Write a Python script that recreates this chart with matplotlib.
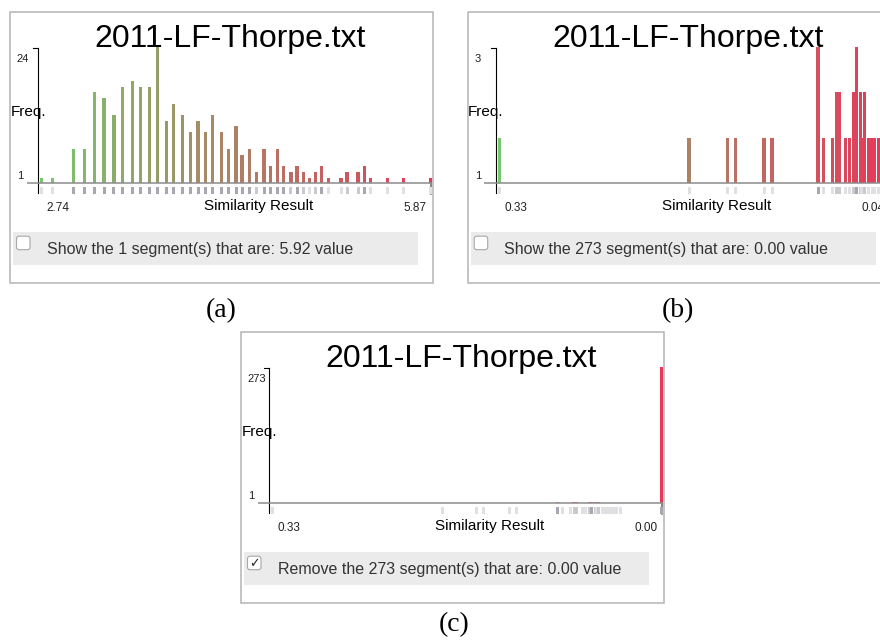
import numpy as np
import matplotlib.pyplot as plt
from matplotlib.colors import LinearSegmentedColormap
from matplotlib.patches import Rectangle, FancyBboxPatch

W, H = 880, 643

title = "2011-LF-Thorpe.txt"

# panel (a): similarity value of each bar and its frequency
a_values = [2.74, 2.83, 3.00, 3.09, 3.17, 3.25, 3.33, 3.40, 3.48, 3.55, 3.62, 3.69,
            3.76, 3.82, 3.89, 3.96, 4.02, 4.08, 4.14, 4.21, 4.27, 4.33, 4.38, 4.44,
            4.50, 4.56, 4.61, 4.67, 4.72, 4.78, 4.83, 4.88, 4.93, 4.98, 5.03, 5.09,
            5.19, 5.24, 5.33, 5.38, 5.43, 5.57, 5.70, 5.92]
a_counts = [1, 1, 6, 6, 16, 15, 12, 17, 18, 17, 17, 24,
            11, 14, 12, 9, 11, 9, 12, 9, 6, 10, 5, 6,
            2, 6, 3, 6, 3, 2, 3, 2, 1, 2, 3, 1,
            1, 2, 2, 3, 1, 1, 1, 1]
a_range = (2.74, 5.92)
a_ticks = ["2.74", "5.87"]

# panel (b): the 0.00 segments are hidden
b_values = [0.330, 0.186, 0.157, 0.151, 0.129, 0.123, 0.088, 0.084, 0.077, 0.074,
            0.072, 0.067, 0.064, 0.061, 0.059, 0.056, 0.055, 0.053, 0.050, 0.047,
            0.045, 0.042, 0.040, 0.038, 0.035]
b_counts = [1, 1, 1, 1, 1, 1, 3, 1, 1, 2,
            2, 1, 1, 2, 3, 2, 1, 2, 1, 1,
            1, 1, 1, 1, 1]
b_range = (0.33, 0.035)
b_ticks = ["0.33", "0.04"]

# panel (c): same segments plus the 273 at 0.00
c_values = b_values + [0.0]
c_counts = b_counts + [273]
c_range = (0.33, 0.0)
c_ticks = ["0.33", "0.00"]

cmap = LinearSegmentedColormap.from_list("sim", ["#76c86e", "#e6385a"])

plt.rcParams["font.family"] = ["Liberation Sans", "DejaVu Sans"]
fig = plt.figure(figsize=(W / 100, H / 100), dpi=100)


def rug_shade(n):
    if n >= 3:
        return "#a7a7b1"
    if n == 2:
        return "#cacace"
    return "#e0e0e2"


def panel(ox, oy, values, counts, vrange, ticks, check_text, checked):
    pw, ph = 422.7, 271.0
    pa = fig.add_axes([ox / W, 1 - (oy + ph) / H, pw / W, ph / H])
    pa.set_xlim(0, pw)
    pa.set_ylim(ph, 0)
    pa.axis("off")
    pa.add_patch(Rectangle((0, 0), pw, ph, fill=False, ec="#b4b4b4", lw=1.1, clip_on=False))

    # bars + rug
    x0, x1 = 16.7, 422.4
    xa, xb = 31.8, 420.2
    y_top, y_base, y_bot = 35.0, 171.6, 182.3
    lo, hi = vrange
    dpp = (hi - lo) / (xb - xa)
    ymax = max(counts)
    ypp = ymax / (y_base - y_top)
    ax = fig.add_axes([(ox + x0) / W, 1 - (oy + y_bot) / H, (x1 - x0) / W, (y_bot - y_top) / H])
    ax.set_xlim(lo - (xa - x0) * dpp, hi + (x1 - xb) * dpp)
    ax.set_ylim(-(y_bot - y_base) * ypp, ymax)
    ax.axis("off")
    vals = np.array(values)
    cols = cmap((vals - lo) / (hi - lo))
    ax.bar(vals, counts, width=3.3 * abs(dpp), color=cols, clip_on=False, zorder=3)
    ax.bar(vals, 7.3 * ypp, bottom=-10.7 * ypp, width=3.0 * abs(dpp),
           color=[rug_shade(n) for n in counts], clip_on=False, zorder=2)
    ax.axhline(0, color="#8c8c8c", lw=1.1, zorder=4)

    # axis chrome
    pa.plot([28.3, 28.3], [36.6, 181], color="black", lw=0.8, zorder=5)
    pa.plot([23, 28.3], [36.6, 36.6], color="black", lw=0.8, zorder=5)
    pa.plot([420.7, 420.7], [171.6, 182], color="#6e6e6e", lw=1.2, zorder=5)
    pa.text(220, 35, title, fontsize=23, ha="center", va="baseline", color="black")
    pa.text(0.4, 104.3, "Freq.", fontsize=11, va="baseline", color="black")
    pa.text(6.5, 50, str(ymax), fontsize=8, va="baseline", color="#222222")
    pa.text(7.3, 167.3, "1", fontsize=8, va="baseline", color="#222222")
    pa.text(36.5, 199, ticks[0], fontsize=8.5, va="baseline", color="#222222")
    pa.text(416.5, 199, ticks[1], fontsize=8.5, ha="right", va="baseline", color="#222222")
    pa.text(248.7, 198.3, "Similarity Result", fontsize=11, ha="center", va="baseline")

    # checkbox row
    pa.add_patch(Rectangle((3.3, 220), 405, 33.3, fc="#ebebeb", ec="none"))
    pa.add_patch(FancyBboxPatch((6.5, 224.5), 13.5, 13.5,
                                boxstyle="round,pad=0,rounding_size=2.5",
                                fc="white", ec="#a8a8a8", lw=0.8))
    if checked:
        pa.text(13.2, 231.5, "\u2713", fontsize=9, ha="center", va="center",
                family=["DejaVu Sans"], color="#222222")
    pa.text(36.7, 242.6, check_text, fontsize=11.5, va="baseline", color="#333333")


panel(10, 11.7, a_values, a_counts, a_range, a_ticks,
      "Show the 1 segment(s) that are: 5.92 value", False)
panel(467.7, 11.7, b_values, b_counts, b_range, b_ticks,
      "Show the 273 segment(s) that are: 0.00 value", False)
panel(241, 331.7, c_values, c_counts, c_range, c_ticks,
      "Remove the 273 segment(s) that are: 0.00 value", True)

for x, y, lab in [(221, 311, "(a)"), (678, 311, "(b)"), (454, 625, "(c)")]:
    fig.text(x / W, 1 - y / H, lab, fontsize=20, family="Liberation Serif",
             ha="center", va="center")

fig.savefig("out.png", dpi=100)
